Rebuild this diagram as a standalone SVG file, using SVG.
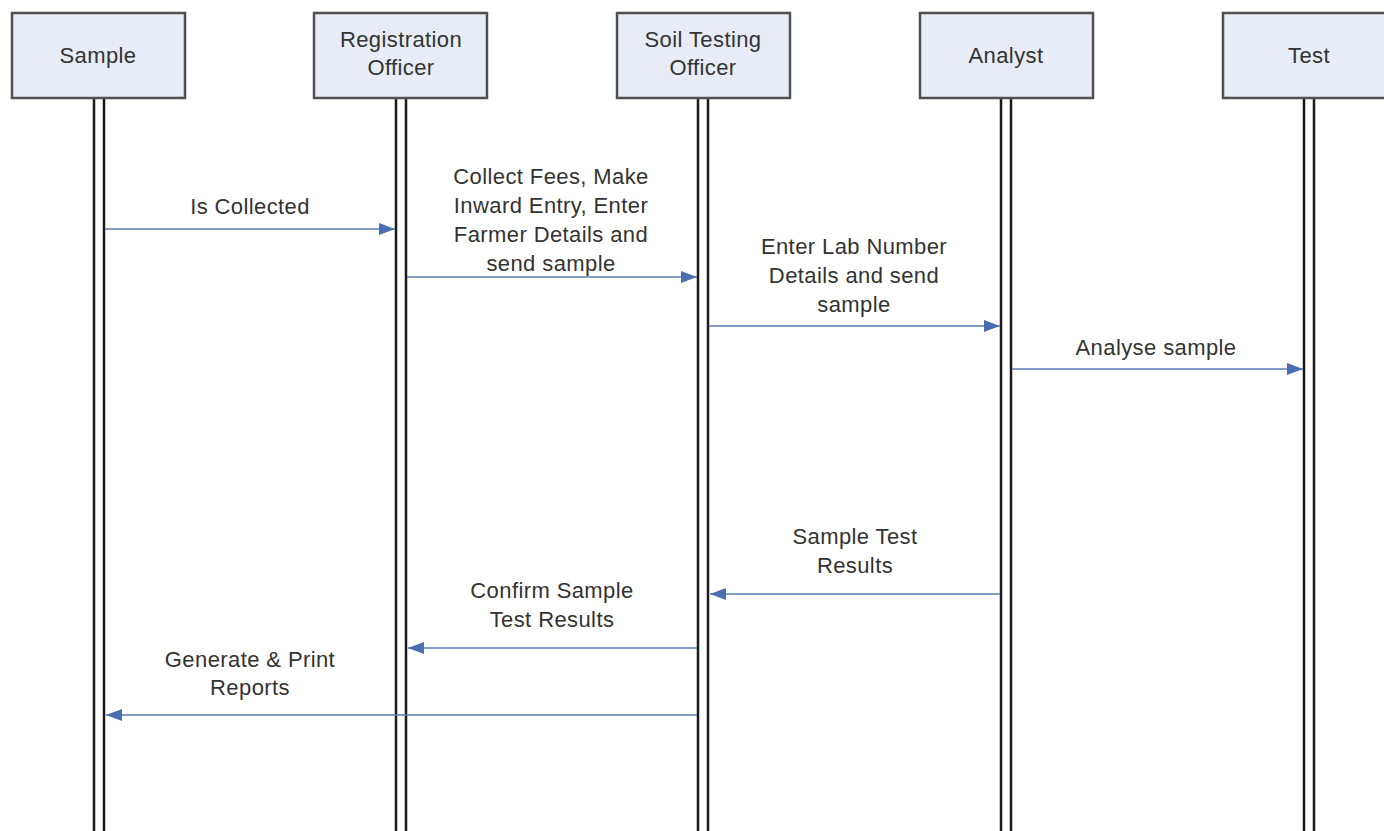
<svg xmlns="http://www.w3.org/2000/svg" width="1384" height="831" viewBox="0 0 1384 831">
  <style>
    .box { fill: #e8ecf6; stroke: #505050; stroke-width: 2.5; }
    .life { stroke: #1a1a1a; stroke-width: 2.5; fill: none; }
    .msg { stroke: #5b7db5; stroke-width: 1.6; fill: none; }
    text { font-family: "Liberation Sans", Arial, sans-serif; font-size: 22px; letter-spacing: 0.4px; fill: #333; text-anchor: middle; }
  </style>
  <defs>
    <marker id="arrow" viewBox="0 0 16 12" refX="16" refY="6" markerWidth="16" markerHeight="12" markerUnits="userSpaceOnUse" orient="auto">
      <path d="M0,0 L16,6 L0,12 Z" fill="#4a6fae"/>
    </marker>
  </defs>
  <rect width="1384" height="831" fill="#ffffff"/>

  <!-- lifelines -->
  <g id="lifelines">
    <path class="life" d="M94,98 V831 M104,98 V831"/>
    <path class="life" d="M396,98 V831 M406,98 V831"/>
    <path class="life" d="M698,98 V831 M708,98 V831"/>
    <path class="life" d="M1001,98 V831 M1011,98 V831"/>
    <path class="life" d="M1304,98 V831 M1314,98 V831"/>
  </g>

  <!-- participants -->
  <g id="sample">
    <rect class="box" x="12" y="13" width="173" height="85"/>
    <text x="98" y="63">Sample</text>
  </g>
  <g id="registration-officer">
    <rect class="box" x="314" y="13" width="173" height="85"/>
    <text x="401" y="47">Registration</text>
    <text x="401" y="75">Officer</text>
  </g>
  <g id="soil-testing-officer">
    <rect class="box" x="617" y="13" width="173" height="85"/>
    <text x="703" y="47">Soil Testing</text>
    <text x="703" y="75">Officer</text>
  </g>
  <g id="analyst">
    <rect class="box" x="920" y="13" width="173" height="85"/>
    <text x="1006" y="63">Analyst</text>
  </g>
  <g id="test">
    <rect class="box" x="1223" y="13" width="173" height="85"/>
    <text x="1309" y="63">Test</text>
  </g>

  <!-- messages -->
  <g id="connectors">
    <line class="msg" x1="105" y1="229" x2="395" y2="229" marker-end="url(#arrow)"/>
    <line class="msg" x1="407" y1="277" x2="697" y2="277" marker-end="url(#arrow)"/>
    <line class="msg" x1="709" y1="326" x2="1000" y2="326" marker-end="url(#arrow)"/>
    <line class="msg" x1="1012" y1="369" x2="1303" y2="369" marker-end="url(#arrow)"/>
    <line class="msg" x1="1000" y1="594" x2="710" y2="594" marker-end="url(#arrow)"/>
    <line class="msg" x1="697" y1="648" x2="408" y2="648" marker-end="url(#arrow)"/>
    <line class="msg" x1="697" y1="715" x2="106" y2="715" marker-end="url(#arrow)"/>
  </g>

  <!-- message labels -->
  <g id="labels">
    <text x="250" y="214">Is Collected</text>
    <text x="551" y="184">Collect Fees, Make</text>
    <text x="551" y="213">Inward Entry, Enter</text>
    <text x="551" y="242">Farmer Details and</text>
    <text x="551" y="271">send sample</text>
    <text x="854" y="254">Enter Lab Number</text>
    <text x="854" y="283">Details and send</text>
    <text x="854" y="312">sample</text>
    <text x="1156" y="355">Analyse sample</text>
    <text x="855" y="544">Sample Test</text>
    <text x="855" y="573">Results</text>
    <text x="552" y="598">Confirm Sample</text>
    <text x="552" y="627">Test Results</text>
    <text x="250" y="667">Generate &amp; Print</text>
    <text x="250" y="695">Reports</text>
  </g>
</svg>
